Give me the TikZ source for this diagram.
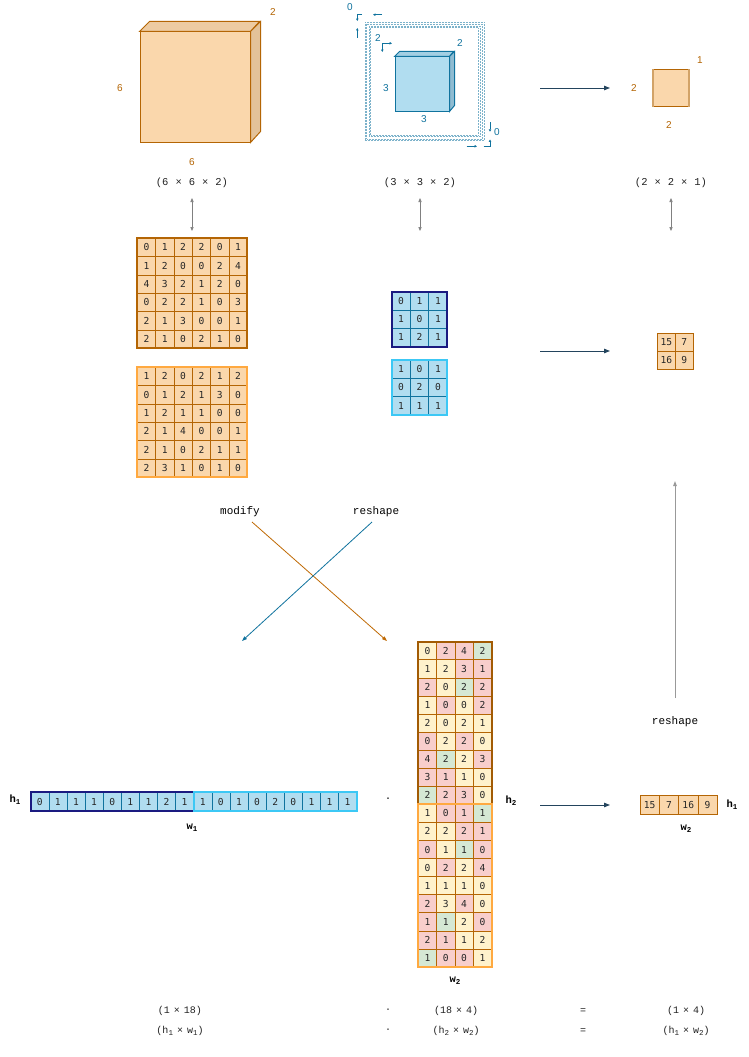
\documentclass[tikz,border=0pt]{standalone}
\usepackage{fontspec}
\setmainfont{Liberation Sans}
\setmonofont{Liberation Mono}
\newfontfamily\cellfont{DejaVu Sans Mono}
\usetikzlibrary{arrows.meta}
\definecolor{ofill}{HTML}{FAD7AC}
\definecolor{ostroke}{HTML}{B46504}
\definecolor{oside}{HTML}{E3C299}
\definecolor{otop}{HTML}{EDCBA2}
\definecolor{olight}{HTML}{FFA940}
\definecolor{bfill}{HTML}{B1DDF0}
\definecolor{bstroke}{HTML}{10739E}
\definecolor{bside}{HTML}{8FBCD2}
\definecolor{btop}{HTML}{A3CFE3}
\definecolor{navy}{HTML}{1A1A80}
\definecolor{cyanb}{HTML}{3CC8F5}
\definecolor{cY}{HTML}{FFF2CC}
\definecolor{cP}{HTML}{F8CECC}
\definecolor{cG}{HTML}{D5E8D4}
\definecolor{arr}{HTML}{23445D}
\definecolor{txt}{HTML}{222222}
\definecolor{dgray}{HTML}{808080}
\newcommand{\g}{\hspace{7pt}}
\newcommand{\gb}{\hspace{4pt}}
\newcommand{\subsc}[1]{\raisebox{-1.8pt}{\fontsize{7.5}{7.5}\selectfont #1}}
\newcommand{\ccell}[4]{\node[tcell, fill=c#4] (C-#1-#2) at ({418.3+(#2-0.5)*18.33},{641.7+(#1-0.5)*18.07}) {#3};}
\tikzset{
  cell/.style={rectangle, inner sep=0pt, minimum width=18.33pt, minimum height=18.33pt,
    text height=7pt, text depth=0pt,
    font=\cellfont\fontsize{9.6}{9.6}\selectfont, text=black!85, line width=0.6pt},
  ocell/.style={cell, draw=ostroke, fill=ofill},
  bcell/.style={cell, draw=bstroke, fill=bfill},
  tcell/.style={cell, draw=ostroke, minimum height=18.07pt},
  mframe/.style={rectangle, inner sep=0pt, line width=1.8pt},
  dimlab/.style={font=\ttfamily\fontsize{10.5}{11}\selectfont, text=txt},
  fmlab/.style={font=\ttfamily\fontsize{10}{11}\selectfont, text=txt},
  oplab/.style={font=\ttfamily\fontsize{11}{12}\selectfont, text=black},
  hwlab/.style={font=\ttfamily\bfseries\fontsize{10.5}{11}\selectfont, text=black},
  olab/.style={font=\fontsize{10}{10}\selectfont, text=ostroke},
  blab/.style={font=\fontsize{10}{10}\selectfont, text=bstroke},
  conn/.style={draw=arr, line width=1pt, -{Triangle[length=6pt,width=4.5pt]}},
  dbl/.style={draw=dgray, line width=0.7pt, {Triangle[length=4pt,width=3.2pt]}-{Triangle[length=4pt,width=3.2pt]}},
  tiny/.style={draw=bstroke, line width=0.7pt},
  tinytip/.style={tiny, -{Triangle[length=2.4pt,width=2.4pt]}},
  dots/.style={draw=bstroke!55, line width=0.45pt, dash pattern=on 0.6pt off 0.9pt},
}
\begin{document}
\begin{tikzpicture}[x=1pt,y=-1pt]
\useasboundingbox[fill=white] (0,0) rectangle (748,1057);

% ---------- top left cube (6 x 6 x 2)
\node[draw=ostroke, fill=ofill, line width=1pt, minimum width=110pt, minimum height=110pt, inner sep=0pt] (cubeA) at (195,87) {};
\draw[draw=ostroke, fill=otop, line width=1pt] (cubeA.north west) -- ++(10,-10) -- ++(110,0) -- (cubeA.north east) -- cycle;
\draw[draw=ostroke, fill=oside, line width=1pt] (cubeA.north east) -- ++(10,-10) -- ++(0,110) -- (cubeA.south east) -- cycle;
\node[olab] (cAh) at (120,88) {6};
\node[olab] (cAd) at (273,12) {2};
\node[olab] (cAw) at (192,162) {6};
\node[dimlab] (dimA) at (192,183) {(6\g×\g6\g×\g2)};

% ---------- top middle cube (3 x 3 x 2) with padding/stride marks
\draw[dots] (364.8,22.3) rectangle (484,140.7);
\draw[dots] (366.6,24) rectangle (482.3,139);
\draw[dots] (369,26) rectangle (480,136.7);
\draw[dots] (370.7,27.7) rectangle (478.3,135);
\node[draw=bstroke, fill=bfill, line width=1pt, minimum width=54pt, minimum height=54pt, inner sep=0pt] (cubeB) at (422,84) {};
\draw[draw=bstroke, fill=btop, line width=1pt] (cubeB.north west) -- ++(5,-5) -- ++(54,0) -- (cubeB.north east) -- cycle;
\draw[draw=bstroke, fill=bside, line width=1pt] (cubeB.north east) -- ++(5,-5) -- ++(0,54) -- (cubeB.south east) -- cycle;
\node[blab] (cBh) at (386,88) {3};
\node[blab] (cBw) at (424,119) {3};
\node[blab] (cBd) at (460,43) {2};
\node[blab] (cBs) at (378,38) {2};
\node[blab] (cBp1) at (350,7) {0};
\node[blab] (cBp2) at (497,132) {0};
% padding / stride markers
\draw[tinytip] (362,14.7) -- (357.3,14.7) -- (357.3,21);
\draw[tinytip] (382,14.7) -- (373,14.7);
\draw[tinytip] (357.3,38) -- (357.3,28);
\draw[tinytip] (382.3,43.3) -- (392,43.3);
\draw[tinytip] (382.3,43.3) -- (382.3,52);
\draw[tinytip] (490,122) -- (490,131.7);
\draw[tinytip] (483.5,146.5) -- (490,146.5) -- (490,139.5);
\draw[tinytip] (466.5,146.3) -- (477,146.3);
\node[dimlab] (dimB) at (420,183) {(3\g×\g3\g×\g2)};

% ---------- top right (2 x 2 x 1)
\node[draw=ostroke, fill=ofill, line width=1pt, minimum width=36.6pt, minimum height=36.6pt, inner sep=0pt] (cubeC) at (671,88.3) {};
\draw[draw=ostroke!60, line width=1.4pt] ([xshift=0.7pt]cubeC.north west) -- ([xshift=0.7pt]cubeC.south west);
\draw[draw=ostroke!60, line width=1.4pt] ([xshift=-0.7pt]cubeC.north east) -- ([xshift=-0.7pt]cubeC.south east);
\node[olab] (cCh) at (634,88) {2};
\node[olab] (cCd) at (700,60) {1};
\node[olab] (cCw) at (669,125) {2};
\node[dimlab] (dimC) at (671,183) {(2\g×\g2\g×\g1)};

\coordinate (topArrS) at (540,88);
\coordinate (topArrE) at (610,88);
\draw[conn] (topArrS) -- (topArrE);

% ---------- double arrows
\coordinate (dA1) at (192,198); \coordinate (dA2) at (192,231);
\coordinate (dB1) at (420,198); \coordinate (dB2) at (420,231);
\coordinate (dC1) at (671,198); \coordinate (dC2) at (671,231);
\draw[dbl] (dA1) -- (dA2);
\draw[dbl] (dB1) -- (dB2);
\draw[dbl] (dC1) -- (dC2);

% ---------- left matrices (input channels)
\foreach \row [count=\r] in {{0,1,2,2,0,1},{1,2,0,0,2,4},{4,3,2,1,2,0},{0,2,2,1,0,3},{2,1,3,0,0,1},{2,1,0,2,1,0}}
  \foreach \v [count=\c] in \row
    \node[ocell] (A-\r-\c) at ({137.3+(\c-0.5)*18.33},{238.3+(\r-0.5)*18.33}) {\v};
\node[mframe, draw=ostroke, minimum width=110pt, minimum height=110pt] (Aframe) at (192.3,293.3) {};

\foreach \row [count=\r] in {{1,2,0,2,1,2},{0,1,2,1,3,0},{1,2,1,1,0,0},{2,1,4,0,0,1},{2,1,0,2,1,1},{2,3,1,0,1,0}}
  \foreach \v [count=\c] in \row
    \node[ocell] (B-\r-\c) at ({137.3+(\c-0.5)*18.33},{367.3+(\r-0.5)*18.33}) {\v};
\node[mframe, draw=olight, minimum width=110pt, minimum height=110pt] (Bframe) at (192.3,422.3) {};

% ---------- middle kernels
\foreach \row [count=\r] in {{0,1,1},{1,0,1},{1,2,1}}
  \foreach \v [count=\c] in \row
    \node[bcell, minimum width=18.5pt, minimum height=18.3pt] (K-\r-\c) at ({391.7+(\c-0.5)*18.5},{291.7+(\r-0.5)*18.3}) {\v};
\node[mframe, draw=navy, minimum width=55.5pt, minimum height=55pt] (Kframe) at (419.45,319.2) {};

\foreach \row [count=\r] in {{1,0,1},{0,2,0},{1,1,1}}
  \foreach \v [count=\c] in \row
    \node[bcell, minimum width=18.5pt, minimum height=18.3pt] (L-\r-\c) at ({391.7+(\c-0.5)*18.5},{360+(\r-0.5)*18.3}) {\v};
\node[mframe, draw=cyanb, minimum width=55.5pt, minimum height=55pt] (Lframe) at (419.45,387.5) {};

\coordinate (midArrS) at (540,351);
\coordinate (midArrE) at (610,351);
\draw[conn] (midArrS) -- (midArrE);

% ---------- right result 2x2
\foreach \row [count=\r] in {{15,7},{16,9}}
  \foreach \v [count=\c] in \row
    \node[ocell, minimum width=18pt, minimum height=18pt] (R-\r-\c) at ({657.3+(\c-0.5)*18},{333.3+(\r-0.5)*18}) {\v};

% ---------- modify / reshape crossing
\node[oplab] (modify) at (240,512) {modify};
\node[oplab] (reshapeA) at (376,512) {reshape};
\coordinate (modEnd) at (387,641);
\coordinate (resEnd) at (242,641);
\draw[draw=ostroke!85!orange, line width=0.8pt, -{Triangle[length=5pt,width=3.5pt]}] (252,522) -- (modEnd);
\draw[draw=bstroke, line width=0.8pt, -{Triangle[length=5pt,width=3.5pt]}] (372,522) -- (resEnd);

% ---------- reshape up arrow
\node[oplab] (reshapeB) at (675,722) {reshape};
\coordinate (upS) at (675,698);
\coordinate (upE) at (675,481);
\draw[draw=dgray!80, line width=1pt, -{Triangle[length=5pt,width=3.5pt]}] (upS) -- (upE);

% ---------- row vector 1 x 18
\foreach \v [count=\c] in {0,1,1,1,0,1,1,2,1,1,0,1,0,2,0,1,1,1}
  \node[bcell, minimum width=18.11pt, minimum height=19pt] (V-\c) at ({30.7+(\c-0.5)*18.11},801.5) {\v};
\node[mframe, draw=navy, minimum width=163pt, minimum height=19pt] (Vframe1) at (112.2,801.5) {};
\node[mframe, draw=cyanb, minimum width=163pt, minimum height=19pt] (Vframe2) at (275.2,801.5) {};
\node[hwlab] (h1a) at (15,800) {h\subsc{1}};
\node[hwlab] (w1a) at (192,828) {w\subsc{1}};
\node[dimlab, font=\ttfamily\bfseries\fontsize{10}{10}\selectfont] (dotA) at (388,800) {·};

% ---------- tall matrix 18 x 4
\foreach \row [count=\r] in {{0Y,2P,4P,2G},{1Y,2Y,3P,1P},{2P,0Y,2G,2P},{1Y,0P,0Y,2P},{2Y,0Y,2Y,1Y},{0P,2Y,2P,0Y},{4P,2G,2Y,3P},{3P,1P,1Y,0Y},{2G,2P,3P,0Y},
  {1Y,0P,1P,1G},{2Y,2Y,2P,1P},{0P,1Y,1G,0P},{0Y,2P,2Y,4P},{1Y,1Y,1Y,0Y},{2P,3Y,4P,0Y},{1P,1G,2Y,0P},{2P,1P,1Y,2Y},{1G,0P,0P,1Y}}
  \foreach \v [count=\c] in \row
    {\edef\tmp{\noexpand\ccell{\r}{\c}\v}\tmp}
\node[mframe, draw=ostroke!90!black, minimum width=73.3pt, minimum height=162.6pt] (Cframe1) at (455,723) {};
\node[mframe, draw=olight, minimum width=73.3pt, minimum height=162.6pt] (Cframe2) at (455,885.6) {};
\node[hwlab] (h2a) at (511,801) {h\subsc{2}};
\node[hwlab] (w2a) at (455,981) {w\subsc{2}};

\coordinate (botArrS) at (540,805);
\coordinate (botArrE) at (610,805);
\draw[conn] (botArrS) -- (botArrE);

% ---------- result vector 1 x 4
\foreach \v [count=\c] in {15,7,16,9}
  \node[ocell, minimum width=19.3pt, minimum height=19pt] (S-\c) at ({640+(\c-0.5)*19.3},804.5) {\v};
\node[hwlab] (h1b) at (732,805) {h\subsc{1}};
\node[hwlab] (w2b) at (686,829) {w\subsc{2}};

% ---------- bottom formula
\node[fmlab] (f1) at (180,1011) {(1\gb×\gb18)};
\node[fmlab] (f2) at (388,1011) {·};
\node[fmlab] (f3) at (456,1011) {(18\gb×\gb4)};
\node[fmlab] (f4) at (583,1011) {=};
\node[fmlab] (f5) at (686,1011) {(1\gb×\gb4)};
\node[fmlab] (g1) at (180,1031) {(h\subsc{1}\gb×\gb w\subsc{1})};
\node[fmlab] (g2) at (388,1031) {·};
\node[fmlab] (g3) at (456,1031) {(h\subsc{2}\gb×\gb w\subsc{2})};
\node[fmlab] (g4) at (583,1031) {=};
\node[fmlab] (g5) at (686,1031) {(h\subsc{1}\gb×\gb w\subsc{2})};
\end{tikzpicture}
\end{document}
